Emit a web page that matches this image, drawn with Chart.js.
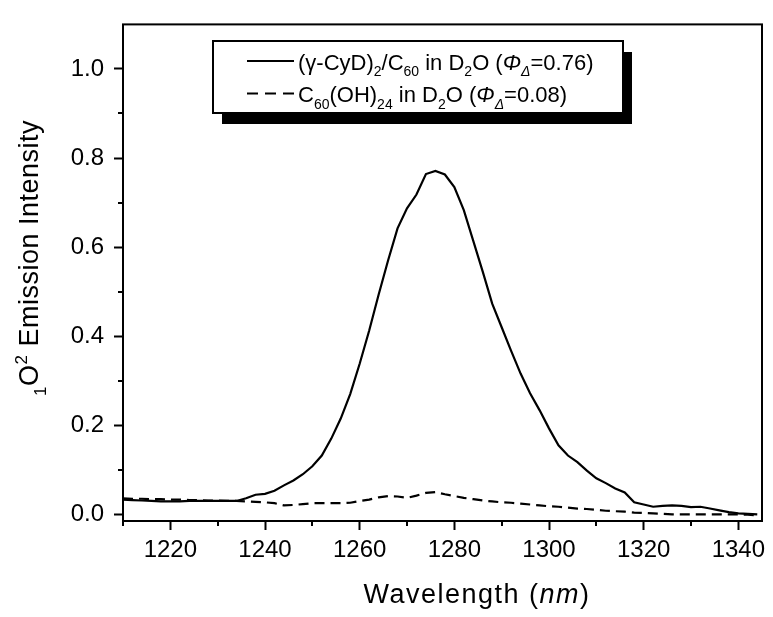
<!DOCTYPE html>
<html>
<head>
<meta charset="utf-8">
<script src="https://cdn.jsdelivr.net/npm/chart.js@4.4.1/dist/chart.umd.min.js"></script>
<style>
  html, body { margin: 0; padding: 0; background: #fff; }
  canvas { display: block; }
</style>
</head>
<body>
<canvas id="chart" width="773" height="617"></canvas>
<script>
// wavelength grid (nm)
var wavelengths = [
  1210, 1212, 1214, 1216, 1218, 1220, 1222, 1224, 1226, 1228,
  1230, 1232, 1234, 1236, 1238, 1240, 1242, 1244, 1246, 1248,
  1250, 1252, 1254, 1256, 1258, 1260, 1262, 1264, 1266, 1268,
  1270, 1272, 1274, 1276, 1278, 1280, 1282, 1284, 1286, 1288,
  1290, 1292, 1294, 1296, 1298, 1300, 1302, 1304, 1306, 1308,
  1310, 1312, 1314, 1316, 1318, 1320, 1322, 1324, 1326, 1328,
  1330, 1332, 1334, 1336, 1338, 1340, 1342, 1344
];

// (gamma-CyD)2/C60 in D2O
var cydC60 = [
  0.033, 0.032, 0.031, 0.030, 0.029, 0.029, 0.029, 0.030, 0.030, 0.030,
  0.030, 0.030, 0.030, 0.036, 0.044, 0.046, 0.053, 0.065, 0.076, 0.090,
  0.108, 0.132, 0.170, 0.215, 0.270, 0.338, 0.412, 0.493, 0.570, 0.642,
  0.687, 0.718, 0.764, 0.771, 0.763, 0.735, 0.683, 0.614, 0.545, 0.473,
  0.420, 0.367, 0.316, 0.272, 0.234, 0.193, 0.155, 0.132, 0.117, 0.098,
  0.081, 0.070, 0.058, 0.049, 0.027, 0.022, 0.017, 0.019, 0.020, 0.019,
  0.016, 0.017, 0.013, 0.009, 0.005, 0.002, 0.001, 0.000
];

// C60(OH)24 in D2O
var c60oh24 = [
  0.036, 0.035, 0.035, 0.034, 0.034, 0.033, 0.033, 0.032, 0.032, 0.031,
  0.031, 0.030, 0.030, 0.029, 0.028, 0.027, 0.025, 0.020, 0.021, 0.023,
  0.025, 0.025, 0.025, 0.025, 0.026, 0.030, 0.033, 0.038, 0.041, 0.040,
  0.037, 0.042, 0.048, 0.050, 0.045, 0.041, 0.037, 0.034, 0.031, 0.029,
  0.027, 0.026, 0.024, 0.022, 0.020, 0.018, 0.017, 0.015, 0.013, 0.012,
  0.010, 0.008, 0.007, 0.006, 0.004, 0.003, 0.002, 0.001, 0.000, 0.000,
  0.000, 0.000, 0.000, 0.000, 0.000, 0.000, -0.001, -0.002
];

var xTicks = [1220, 1240, 1260, 1280, 1300, 1320, 1340];
var xMinor = [1210, 1230, 1250, 1270, 1290, 1310, 1330];
var yTicks = [0.0, 0.2, 0.4, 0.6, 0.8, 1.0];
var yMinor = [0.1, 0.3, 0.5, 0.7, 0.9];

var FONT = '"Liberation Sans", Arial, Helvetica, sans-serif';

var legendRows = [
  { dash: [], parts: [
    { t: '(\u03B3-CyD)' }, { t: '2', sub: true }, { t: '/C' }, { t: '60', sub: true },
    { t: ' in D' }, { t: '2', sub: true }, { t: 'O (' }, { t: '\u03A6', i: true },
    { t: '\u0394', sub: true, i: true }, { t: '=0.76)' }
  ]},
  { dash: [11, 7], parts: [
    { t: 'C' }, { t: '60', sub: true }, { t: '(OH)' }, { t: '24', sub: true },
    { t: ' in D' }, { t: '2', sub: true }, { t: 'O (' }, { t: '\u03A6', i: true },
    { t: '\u0394', sub: true, i: true }, { t: '=0.08)' }
  ]}
];

function toPoints(xs, ys) {
  return xs.map(function (x, i) { return { x: x, y: ys[i] }; });
}

function drawRich(ctx, x, y, parts, size, measureOnly) {
  parts.forEach(function (p) {
    var s = (p.sub || p.sup) ? Math.round(size * 0.62) : size;
    ctx.font = (p.i ? 'italic ' : '') + s + 'px ' + FONT;
    var dy = p.sub ? size * 0.3 : (p.sup ? -size * 0.42 : 0);
    if (!measureOnly) ctx.fillText(p.t, x, y + dy);
    x += ctx.measureText(p.t).width;
  });
  return x;
}

var decorPlugin = {
  id: 'decor',
  afterDraw: function (chart) {
    var ctx = chart.ctx;
    var a = chart.chartArea;
    var xs = chart.scales.x, ys = chart.scales.y;
    ctx.save();
    ctx.strokeStyle = '#000';
    ctx.fillStyle = '#000';

    // frame
    ctx.lineWidth = 2;
    ctx.strokeRect(a.left, a.top, a.right - a.left, a.bottom - a.top);

    // minor ticks
    ctx.beginPath();
    xMinor.forEach(function (v) {
      var px = Math.round(xs.getPixelForValue(v));
      ctx.moveTo(px, a.bottom);
      ctx.lineTo(px, a.bottom + 5);
    });
    yMinor.forEach(function (v) {
      var py = Math.round(ys.getPixelForValue(v));
      ctx.moveTo(a.left, py);
      ctx.lineTo(a.left - 5, py);
    });
    ctx.stroke();

    // axis titles
    ctx.textBaseline = 'alphabetic';
    ctx.textAlign = 'left';
    ctx.letterSpacing = '1.5px';
    var xt = [{ t: 'Wavelength (' }, { t: 'nm', i: true }, { t: ')' }];
    var w = drawRich(ctx, 0, 0, xt, 27, true);
    drawRich(ctx, 477 - w / 2, 603, xt, 27);

    ctx.letterSpacing = '0.5px';
    var yt = [{ t: '1', sub: true }, { t: 'O' }, { t: '2', sup: true }, { t: ' Emission Intensity' }];
    var wy = drawRich(ctx, 0, 0, yt, 27, true);
    ctx.save();
    ctx.translate(38, 258);
    ctx.rotate(-Math.PI / 2);
    drawRich(ctx, -wy / 2, 0, yt, 27);
    ctx.restore();
    ctx.letterSpacing = '0px';

    // legend box with drop shadow
    var bx = 213, by = 41, bw = 410, bh = 72;
    ctx.fillRect(bx + 9, by + 11, bw, bh);
    ctx.fillStyle = '#fff';
    ctx.fillRect(bx, by, bw, bh);
    ctx.lineWidth = 2;
    ctx.strokeRect(bx, by, bw, bh);
    ctx.fillStyle = '#000';
    legendRows.forEach(function (row, i) {
      var ly = 61 + i * 32.5;
      ctx.beginPath();
      ctx.setLineDash(row.dash);
      ctx.lineWidth = 2;
      ctx.moveTo(247, ly);
      ctx.lineTo(294, ly);
      ctx.stroke();
      ctx.setLineDash([]);
      drawRich(ctx, 298, ly + 8.5, row.parts, 22);
    });
    ctx.restore();
  }
};

var ctx = document.getElementById('chart').getContext('2d');
new Chart(ctx, {
  type: 'scatter',
  data: {
    datasets: [{
      label: '(γ-CyD)2/C60 in D2O',
      data: toPoints(wavelengths, cydC60),
      showLine: true,
      borderColor: '#000',
      borderWidth: 2.2,
      pointRadius: 0,
      tension: 0
    }, {
      label: 'C60(OH)24 in D2O',
      data: toPoints(wavelengths, c60oh24),
      showLine: true,
      borderColor: '#000',
      borderWidth: 2.2,
      borderDash: [10, 6],
      pointRadius: 0,
      tension: 0
    }]
  },
  options: {
    responsive: false,
    animation: false,
    devicePixelRatio: 1,
    layout: { padding: { top: 5, right: 11, left: 0, bottom: 0 } },
    plugins: {
      legend: { display: false },
      tooltip: { enabled: false }
    },
    scales: {
      x: {
        type: 'linear',
        min: 1210,
        max: 1345,
        afterFit: function (s) { s.height = 96; },
        afterBuildTicks: function (s) {
          s.ticks = xTicks.map(function (v) { return { value: v }; });
        },
        border: { display: false },
        grid: { drawOnChartArea: false, drawTicks: true, tickLength: 9, tickWidth: 2, tickColor: '#000' },
        ticks: {
          color: '#000',
          padding: 6,
          maxRotation: 0,
          font: { family: FONT, size: 24 },
          callback: function (v) { return String(v); }
        }
      },
      y: {
        type: 'linear',
        min: -0.015,
        max: 1.1,
        afterFit: function (s) { s.width = 123; },
        afterBuildTicks: function (s) {
          s.ticks = yTicks.map(function (v) { return { value: v }; });
        },
        border: { display: false },
        grid: { drawOnChartArea: false, drawTicks: true, tickLength: 9, tickWidth: 2, tickColor: '#000' },
        ticks: {
          color: '#000',
          padding: 10,
          font: { family: FONT, size: 24 },
          callback: function (v) { return Number(v).toFixed(1); }
        }
      }
    }
  },
  plugins: [decorPlugin]
});
</script>
</body>
</html>
